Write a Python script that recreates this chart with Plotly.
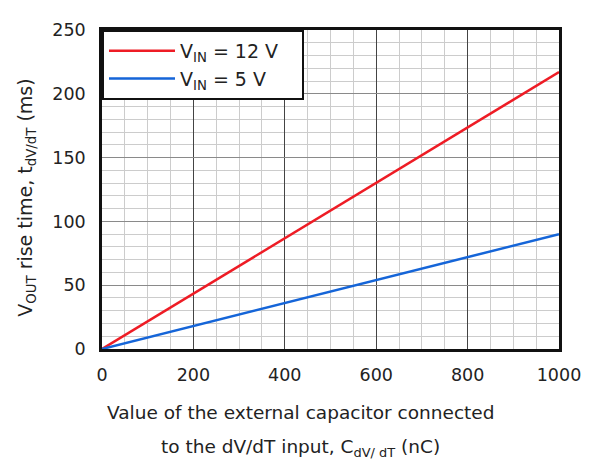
import plotly.graph_objects as go

cap_nc = [0, 200, 400, 600, 800, 1000]
rise_12v = [0, 43.5, 87, 130, 173.5, 217]
rise_5v = [0, 18, 36, 54, 72, 90]
series_names = ["V<sub>IN</sub> = 12 V\u00a0\u00a0\u00a0", "V<sub>IN</sub> = 5 V"]
x_ticks = [0, 200, 400, 600, 800, 1000]
y_ticks = [0, 50, 100, 150, 200, 250]
x_title = ["Value of the external capacitor connected",
           "to the dV/dT input, C<sub>dV/ dT</sub> (nC)"]
y_title = "V<sub>OUT</sub> rise time, t<sub>dV/dT</sub> (ms)"

FONT = "DejaVu Sans"
TXT = "#222"

fig = go.Figure()
fig.add_trace(go.Scatter(x=cap_nc, y=rise_12v, mode="lines", name=series_names[0],
                         legendgroup="a", line=dict(color="#ee1c25", width=2.5)))
fig.add_trace(go.Scatter(x=cap_nc, y=rise_5v, mode="lines", name=series_names[1],
                         legendgroup="b", line=dict(color="#1565d8", width=2.5)))

# page body has an 8px offset, compensate in margins
L, T, R, B = 94, 12, 39, 122
fig.update_layout(
    width=590, height=463,
    margin=dict(l=L, r=R, t=T, b=B),
    paper_bgcolor="white", plot_bgcolor="white",
    font=dict(family=FONT, size=17.5, color=TXT),
    legend=dict(x=0, y=1, xanchor="left", yanchor="top",
                bgcolor="white", bordercolor="#111", borderwidth=2,
                font=dict(family=FONT, size=19, color=TXT),
                tracegroupgap=0, itemwidth=66),
    xaxis=dict(range=[0, 1000], tickvals=x_ticks, showgrid=True,
               gridcolor="#444", gridwidth=1,
               minor=dict(dtick=50, showgrid=True, gridcolor="#cccccc", gridwidth=1),
               showline=True, linecolor="#111", linewidth=2.5, mirror=True,
               ticks="outside", ticklen=8, tickcolor="rgba(0,0,0,0)", zeroline=False,
               tickfont=dict(size=17.5)),
    yaxis=dict(range=[0, 250], tickvals=y_ticks, showgrid=True,
               gridcolor="#8a8a8a", gridwidth=1,
               minor=dict(dtick=10, showgrid=True, gridcolor="#cccccc", gridwidth=1),
               showline=True, linecolor="#111", linewidth=2.5, mirror=True,
               ticks="outside", ticklen=10, tickcolor="rgba(0,0,0,0)", zeroline=False,
               tickfont=dict(size=17.5)),
)

plot_h = 463 - T - B
plot_w = 590 - L - R
def py(fig_y):
    return (463 - B - fig_y) / plot_h
def px(fig_x):
    return (fig_x - L) / plot_w

fig.add_annotation(text=x_title[0], xref="paper", yref="paper", x=px(292), y=py(407),
                   xanchor="center", yanchor="middle", showarrow=False,
                   font=dict(size=18.5, color=TXT))
fig.add_annotation(text=x_title[1], xref="paper", yref="paper", x=px(292), y=py(443),
                   xanchor="center", yanchor="middle", showarrow=False,
                   font=dict(size=18.5, color=TXT))
fig.add_annotation(text=y_title, xref="paper", yref="paper", x=px(19), y=py(185),
                   xanchor="center", yanchor="middle", showarrow=False, textangle=-90,
                   font=dict(size=19, color=TXT))

fig.write_html("out.html")
